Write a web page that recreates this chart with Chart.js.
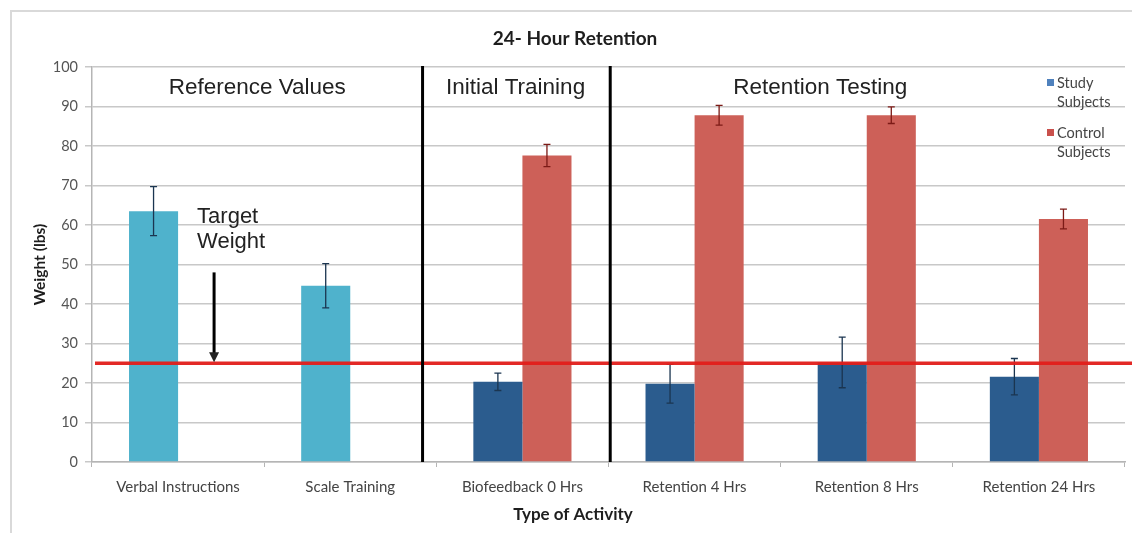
<!DOCTYPE html>
<html>
<head>
<meta charset="utf-8">
<script src="https://cdn.jsdelivr.net/npm/chart.js"></script>
<style>
  body { margin: 0; background: #fff; }
  #wrap { width: 1132px; height: 533px; }
</style>
</head>
<body>
<div id="wrap"><canvas id="retentionChart" width="1132" height="533"></canvas></div>
<script>
// chart values
const categories = [
  "Verbal Instructions",
  "Scale Training",
  "Biofeedback 0 Hrs",
  "Retention 4 Hrs",
  "Retention 8 Hrs",
  "Retention 24 Hrs",
];
const studyValues = [63.5, 44.6, 20.3, 19.8, 25.2, 21.6];
const studyErrors = [6.2, 5.6, 2.2, 4.9, 6.4, 4.6];
const controlValues = [null, null, 77.6, 87.8, 87.8, 61.5];
const controlErrors = [null, null, 2.8, 2.5, 2.1, 2.5];
const yTicks = [0, 10, 20, 30, 40, 50, 60, 70, 80, 90, 100];
const targetWeight = 25;
const sections = ["Reference Values", "Initial Training", "Retention Testing"];
const legendLabels = [["Study", "Subjects"], ["Control", "Subjects"]];

const calibri = "Lato, 'Open Sans', sans-serif";
const arial = "'Liberation Sans', Arial, sans-serif";

const studyColors = ["#4fb2cc", "#4fb2cc", "#2b5c8e", "#2b5c8e", "#2b5c8e", "#2b5c8e"];

const overlay = {
  id: "overlay",
  beforeDraw(chart) {
    const ctx = chart.ctx;
    ctx.save();
    ctx.fillStyle = "#fff";
    ctx.fillRect(0, 0, chart.width, chart.height);
    ctx.strokeStyle = "#d9d9d9";
    ctx.lineWidth = 2;
    ctx.strokeRect(11, 11, chart.width + 20, chart.height + 20);
    ctx.restore();
  },
  afterDatasetsDraw(chart) {
    const ctx = chart.ctx;
    const x = chart.scales.x;
    const y = chart.scales.y;
    const area = chart.chartArea;
    ctx.save();

    // error bars
    const errs = [studyErrors, controlErrors];
    const errColors = ["#1b3550", "#7c1a16"];
    for (let i = 0; i < 2; i++) {
      const meta = chart.getDatasetMeta(i);
      const vals = chart.data.datasets[i].data;
      for (let j = 0; j < vals.length; j++) {
        if (vals[j] === null || errs[i][j] === null) continue;
        const bx = meta.data[j].x;
        const top = y.getPixelForValue(vals[j] + errs[i][j]);
        const bot = y.getPixelForValue(vals[j] - errs[i][j]);
        ctx.strokeStyle = errColors[i];
        ctx.lineWidth = 1.3;
        ctx.beginPath();
        ctx.moveTo(bx, top); ctx.lineTo(bx, bot);
        ctx.moveTo(bx - 3.5, top); ctx.lineTo(bx + 3.5, top);
        ctx.moveTo(bx - 3.5, bot); ctx.lineTo(bx + 3.5, bot);
        ctx.stroke();
      }
    }

    // target line
    const ty = y.getPixelForValue(targetWeight);
    ctx.strokeStyle = "rgba(226, 30, 26, 0.95)";
    ctx.lineWidth = 3.5;
    ctx.beginPath();
    ctx.moveTo(area.left + 3, ty);
    ctx.lineTo(chart.width, ty);
    ctx.stroke();

    // section dividers
    ctx.strokeStyle = "#000";
    ctx.lineWidth = 3;
    [1.42, 2.51].forEach(function (v) {
      const px = x.getPixelForValue(v);
      ctx.beginPath();
      ctx.moveTo(px, area.top - 1);
      ctx.lineTo(px, area.bottom);
      ctx.stroke();
    });

    // section labels
    ctx.fillStyle = "#222";
    ctx.font = "22.5px " + arial;
    ctx.textAlign = "center";
    ctx.textBaseline = "middle";
    [0.46, 1.96, 3.73].forEach(function (v, i) {
      ctx.fillText(sections[i], x.getPixelForValue(v), 88);
    });

    // target weight note and arrow
    const ax = x.getPixelForValue(0) + 36;
    ctx.textAlign = "left";
    ctx.font = "22px " + arial;
    ctx.fillText("Target", ax - 17, 217);
    ctx.fillText("Weight", ax - 17, 242);
    const ay0 = y.getPixelForValue(48);
    ctx.lineWidth = 3;
    ctx.beginPath();
    ctx.moveTo(ax, ay0);
    ctx.lineTo(ax, ty - 9);
    ctx.stroke();
    ctx.beginPath();
    ctx.moveTo(ax - 5, ty - 11);
    ctx.lineTo(ax + 5, ty - 11);
    ctx.lineTo(ax, ty - 1);
    ctx.closePath();
    ctx.fill();

    // chart title and x axis title
    ctx.textAlign = "center";
    ctx.fillStyle = "#1e1e1e";
    ctx.font = "bold 19px " + calibri;
    ctx.fillText("24- Hour Retention", 575, 39);
    ctx.font = "bold 17px " + calibri;
    ctx.fillText("Type of Activity", 573, 515);

    // legend
    const legendColors = ["#4f81bd", "#c9504c"];
    const legendTops = [79, 129];
    ctx.textAlign = "left";
    ctx.font = "14.5px " + calibri;
    for (let i = 0; i < 2; i++) {
      ctx.fillStyle = legendColors[i];
      ctx.fillRect(1047, legendTops[i], 7, 7);
      ctx.fillStyle = "#444";
      ctx.fillText(legendLabels[i][0], 1057, legendTops[i] + 4);
      ctx.fillText(legendLabels[i][1], 1057, legendTops[i] + 23);
    }
    ctx.restore();
  },
};

const ctx = document.getElementById("retentionChart").getContext("2d");

new Chart(ctx, {
  type: "bar",
  data: {
    labels: categories,
    datasets: [
      {
        label: "Study Subjects",
        data: studyValues,
        backgroundColor: studyColors,
        borderWidth: 0,
        barPercentage: 1,
        categoryPercentage: 0.57,
      },
      {
        label: "Control Subjects",
        data: controlValues,
        backgroundColor: "#cd6058",
        borderWidth: 0,
        barPercentage: 1,
        categoryPercentage: 0.57,
      },
    ],
  },
  options: {
    responsive: false,
    animation: false,
    layout: {
      padding: { top: 67, left: 0, right: 7, bottom: 0 },
    },
    plugins: {
      legend: { display: false },
      tooltip: { enabled: false },
      title: { display: false },
    },
    scales: {
      x: {
        grid: {
          drawOnChartArea: false,
          drawTicks: true,
          tickLength: 5,
          color: "#b5b5b5",
        },
        border: { color: "#b5b5b5", width: 1.5 },
        ticks: {
          color: "#444",
          padding: 11,
          maxRotation: 0,
          font: { family: calibri, size: 15 },
        },
        afterFit: function (scale) {
          scale.height = 71;
        },
      },
      y: {
        min: 0,
        max: 100,
        afterBuildTicks: function (scale) {
          scale.ticks = yTicks.map(function (v) { return { value: v }; });
        },
        grid: {
          color: "#c8c8c8",
          lineWidth: 1.5,
          tickLength: 7,
        },
        border: { color: "#b5b5b5", width: 1.5 },
        ticks: {
          color: "#555",
          padding: 7,
          font: { family: calibri, size: 14.5 },
        },
        title: {
          display: true,
          text: "Weight (lbs)",
          color: "#1e1e1e",
          font: { family: calibri, size: 15.5, weight: "bold" },
          padding: { top: 31, bottom: 0 },
        },
        afterFit: function (scale) {
          scale.width = 92;
        },
      },
    },
  },
  plugins: [overlay],
});
</script>
</body>
</html>
